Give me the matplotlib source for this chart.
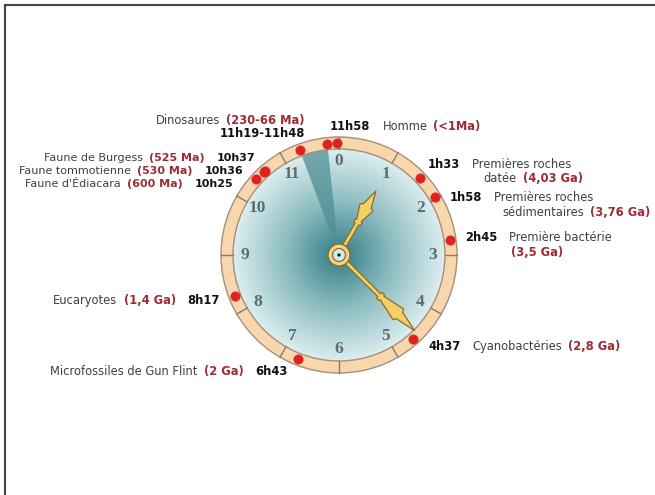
import numpy as np
import matplotlib
matplotlib.use('Agg')
import matplotlib.pyplot as plt
from matplotlib import patches
from matplotlib.colors import LinearSegmentedColormap

# Events on the "geological clock" (12 h = age of the Earth)
names = ["Homme", "Premières roches\ndatée", "Premières roches\nsédimentaires",
         "Première bactérie", "Cyanobactéries", "Microfossiles de Gun Flint",
         "Eucaryotes", "Faune d'Édiacara", "Faune tommotienne",
         "Faune de Burgess", "Dinosaures"]
ages = ["(<1Ma)", "(4,03 Ga)", "(3,76 Ga)", "(3,5 Ga)", "(2,8 Ga)", "(2 Ga)",
        "(1,4 Ga)", "(600 Ma)", "(530 Ma)", "(525 Ma)", "(230-66 Ma)"]
times = ["11h58", "1h33", "1h58", "2h45", "4h37", "6h43", "8h17",
         "10h25", "10h36", "10h37", "11h19-11h48"]
dial_numbers = [str(i) for i in range(12)]
# hand positions, in dial hours
hour_hand = 1.0
minute_hand = 4.5

def to_hours(s):
    h, m = s.split('h')
    return int(h) + int(m) / 60.0

dot_hours = []
for t in times:
    for part in t.split('-'):
        dot_hours.append(to_hours(part))
dino_start, dino_end = [to_hours(p) for p in times[-1].split('-')]

W, H = 655, 495
fig = plt.figure(figsize=(W / 100, H / 100), dpi=100)
ax = fig.add_axes([0, 0, 1, 1])
ax.set_xlim(0, W)
ax.set_ylim(H, 0)
ax.set_aspect('equal')
ax.axis('off')

cx, cy = 339, 255
R_out, R_in, R_dot, R_num = 118, 106, 112, 94


def clock_xy(hours, r):
    th = np.radians(np.asarray(hours) * 30.0)
    return cx + r * np.sin(th), cy - r * np.cos(th)


# face with radial gradient
cmap = LinearSegmentedColormap.from_list('face', [(0, '#2f7c85'), (0.5, '#8cbcc0'), (1, '#dcedef')])
yy, xx = np.mgrid[-1:1:400j, -1:1:400j]
rr = np.clip(np.hypot(xx, yy), 0, 1)
face = patches.Circle((cx, cy), R_in, facecolor='none', edgecolor='none')
ax.add_patch(face)
im = ax.imshow(rr, cmap=cmap, extent=[cx - R_in, cx + R_in, cy + R_in, cy - R_in],
               vmin=0, vmax=1, zorder=1, interpolation='bilinear')
im.set_clip_path(face)

# dinosaur era wedge
ax.add_patch(patches.Wedge((cx, cy), R_in, dino_start * 30 - 90, dino_end * 30 - 90,
                           facecolor='#4f8f94', edgecolor='none', alpha=0.75, zorder=2))

# ring
ax.add_patch(patches.Wedge((cx, cy), R_out, 0, 360, width=R_out - R_in,
                           facecolor='#f8d6ae', edgecolor='#a88e78', lw=1.0, zorder=3))
for k in range(12):
    x0, y0 = clock_xy(k, R_in)
    x1, y1 = clock_xy(k, R_out)
    ax.plot([x0, x1], [y0, y1], color='#8c7a68', lw=1.0, zorder=4)

# dial numbers
for k, lab in enumerate(dial_numbers):
    x, y = clock_xy(k, R_num)
    ax.text(x, y, lab, ha='center', va='center', fontsize=12.5, family='Liberation Serif',
            fontweight='bold', color='#5a6c6e', zorder=5)


# hands
def draw_hand(pos, s_c, s_b, L):
    prof = [(10, 2.0), (s_c, 2.0), (s_c, 4.0), (s_c + 3, 4.0), (s_c + 4, 2.6),
            (s_b, 7.5), (s_b + 1.5, 4.5), (L, 0)]
    pts = prof + [(s, -w) for s, w in prof[::-1]]
    th = np.radians(pos * 30.0)
    d = np.array([np.sin(th), -np.cos(th)])
    p = np.array([np.cos(th), np.sin(th)])
    xy = [(cx + s * d[0] + w * p[0], cy + s * d[1] + w * p[1]) for s, w in pts]
    ax.add_patch(patches.Polygon(xy, closed=True, facecolor='#f4cf64',
                                 edgecolor='#8a6d28', lw=0.9, zorder=6))


draw_hand(hour_hand, 36, 55, 74)
draw_hand(minute_hand, 57, 84, 107)

ax.add_patch(patches.Circle((cx, cy), 11, facecolor='#f3d487', edgecolor='#8a6d28', lw=1.0, zorder=7))
ax.add_patch(patches.Circle((cx, cy), 6.5, facecolor='#cfe9f0', edgecolor='#8a6d28', lw=0.9, zorder=8))
ax.add_patch(patches.Circle((cx, cy), 1.6, facecolor='#111111', edgecolor='none', zorder=9))

# event dots
dx, dy = clock_xy(dot_hours, R_dot)
ax.scatter(dx, dy, s=45, color='#e3201b', edgecolors='#c0392b', linewidths=0.5, zorder=10)

# labels
styles = {
    'name': dict(color='#404040'),
    'age': dict(color='#9b2c36', fontweight='bold'),
    'time': dict(color='#111111', fontweight='bold'),
}
FS = 8.3
renderer = fig.canvas.get_renderer()


def draw_line(x, y, parts, ha='left', fs=FS):
    # parts: list of (text, kind, gap_before)
    arts = []
    for s, kind, gap in parts:
        t = ax.text(0, y + 3.8, s, fontsize=fs, va='baseline', ha='left', zorder=11, **styles[kind])
        arts.append((t, gap))
    widths = [t.get_window_extent(renderer).width for t, g in arts]
    total = sum(widths) + sum(g for t, g in arts[1:])
    pos = x if ha == 'left' else x - total
    for i, (t, gap) in enumerate(arts):
        if i > 0:
            pos += gap
        t.set_x(pos)
        pos += widths[i]


n = {i: names[i].split('\n') for i in range(len(names))}
G1, G2 = 6, 12
draw_line(330, 126, [(times[0], 'time', 0), (n[0][0], 'name', G2), (ages[0], 'age', G1)])
draw_line(428, 164, [(times[1], 'time', 0), (n[1][0], 'name', G2)])
draw_line(583, 178, [(n[1][1], 'name', 0), (ages[1], 'age', G1)], ha='right')
draw_line(450, 197, [(times[2], 'time', 0), (n[2][0], 'name', G2)])
draw_line(502, 212, [(n[2][1], 'name', 0), (ages[2], 'age', G1)])
draw_line(465, 237, [(times[3], 'time', 0), (n[3][0], 'name', G2)])
draw_line(511, 252, [(ages[3], 'age', 0)])
draw_line(428, 346, [(times[4], 'time', 0), (n[4][0], 'name', G2), (ages[4], 'age', G1)])
draw_line(288, 371, [(n[5][0], 'name', 0), (ages[5], 'age', G1), (times[5], 'time', G2)], ha='right')
draw_line(220, 300, [(n[6][0], 'name', 0), (ages[6], 'age', G1), (times[6], 'time', G2)], ha='right')
# the three Faune lines are tightly packed in the reference
draw_line(233, 183.5, [(n[7][0], 'name', 0), (ages[7], 'age', G1), (times[7], 'time', G2)], ha='right', fs=8)
draw_line(243, 170.5, [(n[8][0], 'name', 0), (ages[8], 'age', G1), (times[8], 'time', G2)], ha='right', fs=8)
draw_line(255, 157.5, [(n[9][0], 'name', 0), (ages[9], 'age', G1), (times[9], 'time', G2)], ha='right', fs=8)
draw_line(305, 120, [(n[10][0], 'name', 0), (ages[10], 'age', G1)], ha='right')
draw_line(305, 133, [(times[10], 'time', 0)], ha='right')

# frame (top and left edges only)
ax.plot([4.5, W], [4.5, 4.5], color='#444444', lw=1.5, clip_on=False)
ax.plot([4.5, 4.5], [4.5, H], color='#444444', lw=1.5, clip_on=False)

fig.savefig('out.png', dpi=100)
